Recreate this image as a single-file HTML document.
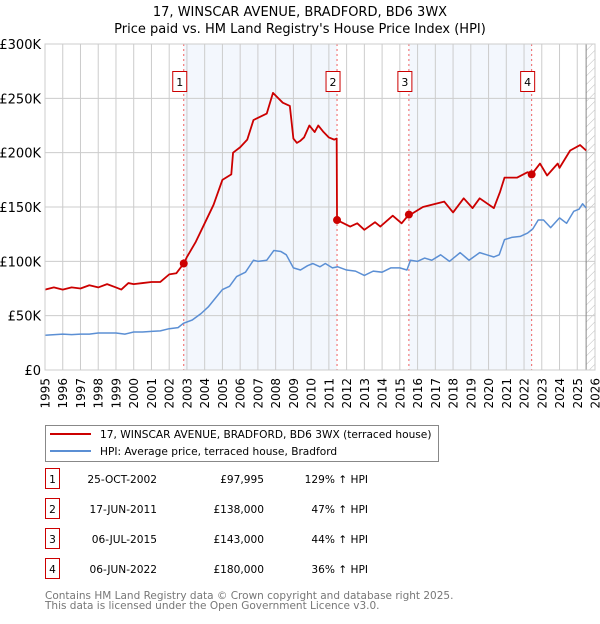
<!DOCTYPE html>
<html><head><meta charset="utf-8"><style>
body{margin:0;background:#fff;font-family:"DejaVu Sans","Liberation Sans",sans-serif;}
svg text{font-family:"DejaVu Sans","Liberation Sans",sans-serif;}
</style></head><body>
<svg id="c" width="600" height="620" xmlns="http://www.w3.org/2000/svg">
<defs><pattern id="hatch" width="6" height="6" patternUnits="userSpaceOnUse" patternTransform="rotate(45)"><line x1="0" y1="0" x2="0" y2="6" stroke="#bbb" stroke-width="1"/></pattern></defs>
<text x="300" y="16" text-anchor="middle" font-size="13" fill="#000">17, WINSCAR AVENUE, BRADFORD, BD6 3WX</text>
<text x="300" y="33" text-anchor="middle" font-size="13" fill="#000">Price paid vs. HM Land Registry's House Price Index (HPI)</text>
<g id="plot"></g>
<g>
<rect x="45.5" y="425.5" width="393" height="36" fill="#fff" stroke="#888"/>
<line x1="50" y1="434" x2="91" y2="434" stroke="#cc0000" stroke-width="2"/>
<text x="100" y="438" font-size="10.6">17, WINSCAR AVENUE, BRADFORD, BD6 3WX (terraced house)</text>
<line x1="50" y1="451" x2="91" y2="451" stroke="#5b8fd4" stroke-width="2"/>
<text x="100" y="455" font-size="10.6">HPI: Average price, terraced house, Bradford</text>
</g>
<g id="table" font-size="10.6"></g>
<text x="45" y="599" font-size="10.5" fill="#777">Contains HM Land Registry data © Crown copyright and database right 2025.</text>
<text x="45" y="609" font-size="10.5" fill="#777">This data is licensed under the Open Government Licence v3.0.</text>
</svg>
<script>
const yTicks=[0,50,100,150,200,250,300];
const yTickLabels=["£0","£50K","£100K","£150K","£200K","£250K","£300K"];
const xYears=[1995,1996,1997,1998,1999,2000,2001,2002,2003,2004,2005,2006,2007,2008,2009,2010,2011,2012,2013,2014,2015,2016,2017,2018,2019,2020,2021,2022,2023,2024,2025,2026];
const saleDates=[2002.82,2011.46,2015.51,2022.43];
const saleValues=[97.995,138,143,180];
const saleLabels=["1","2","3","4"];
const saleDateText=["25-OCT-2002","17-JUN-2011","06-JUL-2015","06-JUN-2022"];
const salePriceText=["£97,995","£138,000","£143,000","£180,000"];
const saleHpiText=["129% ↑ HPI","47% ↑ HPI","44% ↑ HPI","36% ↑ HPI"];
const propT=[1995,1995.5,1996,1996.5,1997,1997.5,1998,1998.5,1999,1999.3,1999.7,2000,2000.5,2001,2001.5,2002,2002.4,2002.82,2003,2003.5,2004,2004.5,2005,2005.5,2005.6,2006,2006.4,2006.75,2007.5,2007.85,2008.4,2008.8,2009.0,2009.2,2009.4,2009.6,2009.9,2010.2,2010.4,2010.7,2011.0,2011.3,2011.44,2011.46,2012.2,2012.6,2013.0,2013.6,2013.9,2014.6,2015.1,2015.51,2015.7,2016.3,2017.5,2018.0,2018.6,2019.1,2019.5,2020.3,2020.65,2020.9,2021.6,2022.2,2022.43,2022.9,2023.3,2023.9,2024.0,2024.6,2025.16,2025.5];
const propV=[74,76,74,76,75,78,76,79,76,74,80,79,80,81,81,88,89,97.995,104,118,135,152,175,180,200,205,212,230,236,255,246,243,213,209,211,214,225,219,225,219,214,212,213,138,132,135,129,136,132,142,135,143,144,150,155,145,158,149,158,149,164,177,177,182,180,190,179,190,186,202,207,202];
const hpiT=[1995,1996,1996.5,1997,1997.5,1998,1998.5,1999,1999.5,2000,2000.5,2001,2001.5,2002,2002.5,2002.8,2003.3,2003.8,2004.2,2004.6,2005,2005.4,2005.8,2006.3,2006.75,2007,2007.5,2007.9,2008.3,2008.6,2009,2009.4,2009.8,2010.1,2010.5,2010.8,2011.2,2011.5,2012,2012.5,2013,2013.5,2014,2014.5,2015,2015.4,2015.6,2016,2016.4,2016.8,2017.3,2017.8,2018.4,2018.9,2019.5,2019.9,2020.3,2020.6,2020.9,2021.3,2021.8,2022.2,2022.5,2022.8,2023.1,2023.5,2024,2024.4,2024.8,2025.1,2025.3,2025.5];
const hpiV=[32,33,32.5,33,33,34,34,34,33,35,35,35.5,36,38,39,43,46,52,58,66,74,77,86,90,101,100,101,110,109,106,94,92,96,98,95,98,94,95,92,91,87,91,90,94,94,92,101,100,103,101,106,100,108,101,108,106,104,106,120,122,123,126,130,138,138,131,140,135,146,148,153,149];
const dataEnd=2025.5;
const L=45,R=595,T=44,B=370;
const X=t=>L+(t-1995)/(2026-1995)*(R-L);
const Y=v=>B-v/300*(B-T);
const NS="http://www.w3.org/2000/svg";
function mk(tag,attrs,parent){const e=document.createElementNS(NS,tag);for(const k in attrs)e.setAttribute(k,attrs[k]);parent.appendChild(e);return e;}
const g=document.getElementById('plot');
for(let i=0;i<saleDates.length;i+=2){
  const x1=X(saleDates[i]),x2=i+1<saleDates.length?X(saleDates[i+1]):X(dataEnd);
  const r=mk('rect',{x:x1,y:T,width:x2-x1,height:B-T,fill:'#eef3fc',opacity:'0.7'},g);
  
  
}
const hz=mk('rect',{x:X(dataEnd),y:T,width:R-X(dataEnd),height:B-T,fill:'url(#hatch)'},g);


xYears.forEach(yr=>{const l=mk('line',{x1:X(yr),x2:X(yr),y1:T,y2:B,stroke:'#ccc','stroke-width':1},g);


const t=mk('text',{x:0,y:0,'font-size':12,'text-anchor':'end',transform:`translate(${X(yr)+4.5},${B+8}) rotate(-90)`},g);t.textContent=yr;

});
yTicks.forEach((v,i)=>{const l=mk('line',{x1:L,x2:R,y1:Y(v),y2:Y(v),stroke:'#ccc','stroke-width':1},g);


const t=mk('text',{x:41,y:Y(v)+5,'font-size':13,'text-anchor':'end'},g);t.textContent=yTickLabels[i];

});
const el=mk('line',{x1:X(dataEnd),x2:X(dataEnd),y1:T,y2:B,stroke:'#888','stroke-width':1},g);


saleDates.forEach((d,i)=>{const l=mk('line',{x1:X(d),x2:X(d),y1:T,y2:B,stroke:'#f06060','stroke-width':1,'stroke-dasharray':'2,3'},g);


const bx=mk('rect',{x:X(d)-11,y:71.5,width:14,height:20,fill:'#fff',stroke:'#cc0000'},g);


const t=mk('text',{x:X(d)-4,y:86,'font-size':11,'text-anchor':'middle'},g);t.textContent=saleLabels[i];

});
function line(ts,vs,col,name,w){const p=mk('polyline',{points:ts.map((t,i)=>X(t)+','+Y(vs[i])).join(' '),fill:'none',stroke:col,'stroke-width':w,'stroke-linejoin':'round'},g);

}
line(hpiT,hpiV,'#5b8fd4','hpi-line',1.5);
line(propT,propV,'#cc0000','property-price-line',1.8);
saleDates.forEach((d,i)=>{const c=mk('circle',{cx:X(d),cy:Y(saleValues[i]),r:4,fill:'#cc0000'},g);

});
const ax=mk('rect',{x:L,y:T,width:R-L,height:B-T,fill:'none',stroke:'#ccc'},g);


const tb=document.getElementById('table');
saleDates.forEach((d,i)=>{const y=483+i*30;
const b=mk('rect',{x:45.5,y:y-14.5,width:14,height:20,fill:'#fff',stroke:'#cc0000'},tb);


const n=mk('text',{x:52.5,y:y,'text-anchor':'middle'},tb);n.textContent=saleLabels[i];


const a=mk('text',{x:157,y:y,'text-anchor':'end'},tb);a.textContent=saleDateText[i];


const p=mk('text',{x:264,y:y,'text-anchor':'end'},tb);p.textContent=salePriceText[i];


const h=mk('text',{x:368,y:y,'text-anchor':'end'},tb);h.textContent=saleHpiText[i];

});
</script>
</body></html>
